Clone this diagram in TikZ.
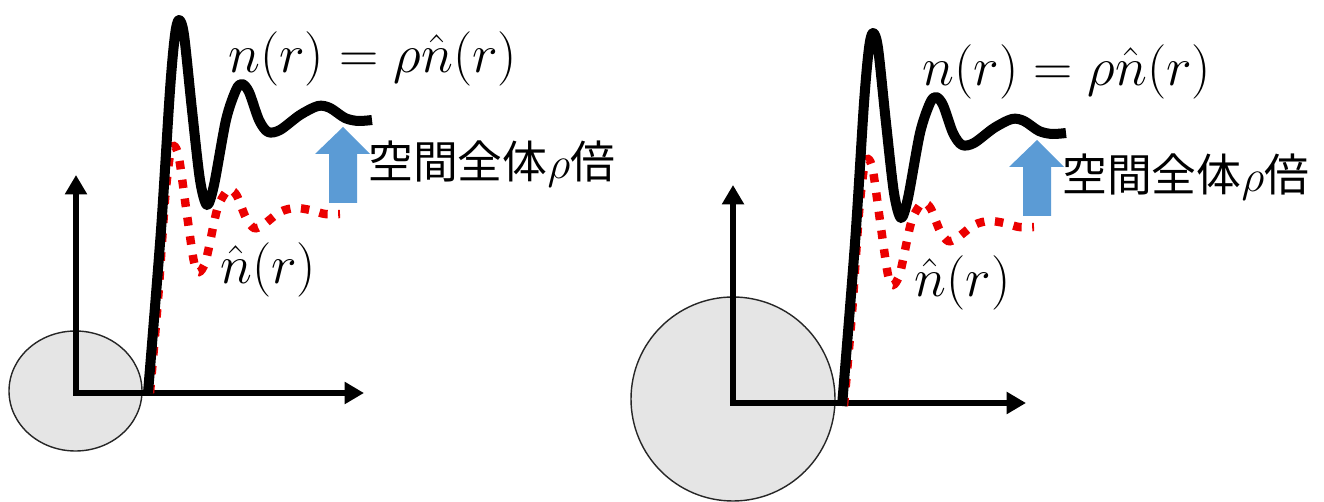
\RequirePackage{fix-cm}
\documentclass[tikz,border=0pt]{standalone}
\usepackage{amsmath}
\usepackage{fontspec}
\newfontfamily\cjk{Noto Sans CJK JP}
\usetikzlibrary{arrows.meta}
\definecolor{liftBlue}{RGB}{91,155,213}
\definecolor{dotRed}{RGB}{235,0,0}

\begin{document}
\begin{tikzpicture}[
    x=0.02cm, y=-0.02cm,
    axis/.style={{Triangle[length=11pt,width=12pt]}-{Triangle[length=11pt,width=12pt]},
                 line width=3.6pt},
    ball/.style={draw=black!85, line width=0.8pt, fill=black!10},
    real/.style={line width=5.7pt, line join=round},
    ideal/.style={dotRed, line width=4.8pt, dash pattern=on 4.8pt off 6pt},
    eq/.style={font=\fontsize{31}{37}\selectfont, inner sep=0pt, anchor=west},
    jp/.style={font=\fontsize{25.5}{30}\selectfont\cjk, inner sep=0pt, anchor=west},
    profile/.pic={
      % ideal-gas profile
      \draw[ideal] plot[smooth] coordinates {(150,393) (158,300) (165,200)
        (170,155) (174,146) (179,158) (187,215) (194,262) (199,272) (206,260)
        (217,210) (226,192) (231,190) (237,196) (246,218) (254,228) (263,225)
        (280,212) (295,208) (310,210) (325,214) (340,214)};
      % scaled profile
      \draw[real] plot[smooth] coordinates {(148,393) (161,230) (170,90)
        (175,35) (179,20) (184,35) (192,110) (200,180) (207,205) (214,185)
        (226,120) (236,90) (242,84) (249,92) (259,120) (268,132) (280,130)
        (300,115) (318,106) (330,108) (345,118) (358,121) (372,120)};
      % lift arrow
      \fill[liftBlue] (343,127) -- (370,154) -- (357,154) -- (357,203)
        -- (329,203) -- (329,154) -- (315,154) -- cycle;
      \node[eq] (-full) at (228,59) {$n(r) = \rho\hat{n}(r)$};
      \node[eq] (-hat) at (220,270) {$\hat{n}(r)$};
      \node[jp] (-times) at (368,164) {空間全体$\rho$倍};
    },
  ]
    \useasboundingbox (0,0) rectangle (1324,502);

    % small particle
    \draw[ball] (75.5,391) ellipse [x radius=66.5, y radius=60];
    \coordinate (O1) at (76,393);
    \coordinate (Y1) at (76,175);
    \coordinate (X1) at (364,393);
    \draw[axis] (Y1) -- (O1) -- (X1);
    \pic (L) at (0,0) {profile};

    % large particle
    \draw[ball] (733,399) circle [radius=102];
    \coordinate (O2) at (733,403);
    \coordinate (Y2) at (733,185);
    \coordinate (X2) at (1026,403);
    \draw[axis] (Y2) -- (O2) -- (X2);
    \pic (R) at (694,13) {profile};
  \end{tikzpicture}
\end{document}
